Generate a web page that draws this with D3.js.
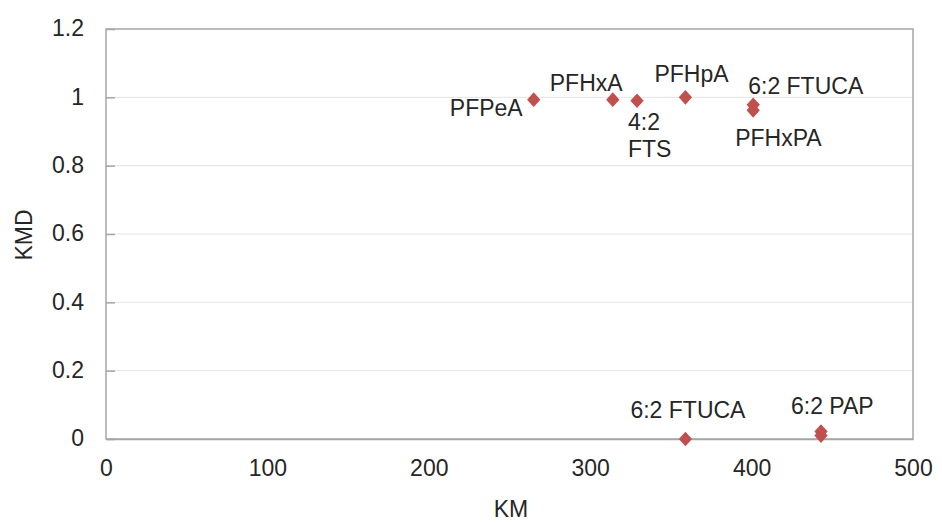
<!DOCTYPE html>
<html>
<head>
<meta charset="utf-8">
<script src="https://cdn.jsdelivr.net/npm/d3@7"></script>
<style>
  body { margin: 0; background: #fff; }
  svg text { font-family: "Liberation Sans", Arial, sans-serif; fill: #262626; }
</style>
</head>
<body>
<svg id="chart" width="942" height="523"></svg>
<script>
// data
const km  = [265, 314, 329, 359, 401, 401, 359, 443, 443];
const kmd = [0.993, 0.993, 0.99, 1.0, 0.978, 0.962, 0.0, 0.022, 0.01];
// label text and the point it belongs to
const labelText  = ['PFPeA', 'PFHxA', '4:2|FTS', 'PFHpA', '6:2 FTUCA', 'PFHxPA', '6:2 FTUCA', '6:2 PAP'];
const labelPoint = [0, 1, 2, 3, 4, 5, 6, 7];
const xTicks = [0, 100, 200, 300, 400, 500];
const yTicks = [0, 0.2, 0.4, 0.6, 0.8, 1, 1.2];

// label placement relative to its point (style, not data)
const labelStyle = [
  {dx: -11, dy: 16, anchor: 'end'},
  {dx: -63, dy: -9, anchor: 'start'},
  {dx: -9, dy: 29, anchor: 'start'},
  {dx: -31, dy: -15, anchor: 'start'},
  {dx: -5, dy: -11, anchor: 'start'},
  {dx: -18, dy: 36, anchor: 'start'},
  {dx: -55, dy: -21, anchor: 'start'},
  {dx: -30, dy: -17, anchor: 'start'}
];

const margin = {left: 106, top: 29, right: 942 - 913, bottom: 523 - 439};
const width = 942, height = 523;
const svg = d3.select('#chart');

const x = d3.scaleLinear().domain([0, 500]).range([margin.left, width - margin.right]);
const y = d3.scaleLinear().domain([0, 1.2]).range([height - margin.bottom, margin.top]);

// gridlines
svg.append('g').selectAll('line').data(yTicks.filter(d => d > 0 && d < 1.2)).enter()
  .append('line')
  .attr('x1', x(0)).attr('x2', x(500))
  .attr('y1', d => y(d)).attr('y2', d => y(d))
  .attr('stroke', '#e4e4e4').attr('stroke-width', 1);

// frame
svg.append('rect')
  .attr('x', x(0)).attr('y', y(1.2))
  .attr('width', x(500) - x(0)).attr('height', y(0) - y(1.2))
  .attr('fill', 'none').attr('stroke', '#a6a6a6').attr('stroke-width', 1.5);

// y axis
const yAxis = d3.axisLeft(y).tickValues(yTicks).tickFormat(d3.format('~g')).tickSize(-9).tickPadding(22);
const gy = svg.append('g').attr('transform', `translate(${x(0)},0)`).call(yAxis);
gy.select('.domain').remove();
gy.selectAll('.tick line').attr('stroke', '#a6a6a6').attr('stroke-width', 1.5);
gy.selectAll('.tick text').style('font-size', '23px').attr('dy', '0.3em');

// x axis
const xAxis = d3.axisBottom(x).tickValues(xTicks).tickSize(0).tickPadding(21);
const gx = svg.append('g').attr('transform', `translate(0,${y(0)})`).call(xAxis);
gx.select('.domain').attr('stroke', '#a6a6a6').attr('stroke-width', 1.5);
gx.selectAll('.tick text').style('font-size', '23px');

// axis titles
svg.append('text').attr('x', 511).attr('y', 517).attr('text-anchor', 'middle')
  .style('font-size', '23px').text('KM');
svg.append('text').attr('transform', 'translate(32,235) rotate(-90)').attr('text-anchor', 'middle')
  .style('font-size', '23px').text('KMD');

// points
const pts = km.map((k, i) => ({km: k, kmd: kmd[i]}));
svg.append('g').selectAll('path').data(pts).enter()
  .append('path')
  .attr('d', d3.symbol(d3.symbolDiamond2, 125))
  .attr('transform', d => `translate(${x(d.km)},${y(d.kmd)}) scale(0.95,1.05)`)
  .attr('fill', '#c0504d');

// labels
const lg = svg.append('g');
labelText.forEach((t, i) => {
  const p = pts[labelPoint[i]], s = labelStyle[i];
  const txt = lg.append('text')
    .attr('x', x(p.km) + s.dx).attr('y', y(p.kmd) + s.dy)
    .attr('text-anchor', s.anchor).style('font-size', '23px');
  t.split('|').forEach((line, j) => {
    txt.append('tspan').attr('x', x(p.km) + s.dx).attr('dy', j === 0 ? 0 : 27).text(line);
  });
});
</script>
</body>
</html>
